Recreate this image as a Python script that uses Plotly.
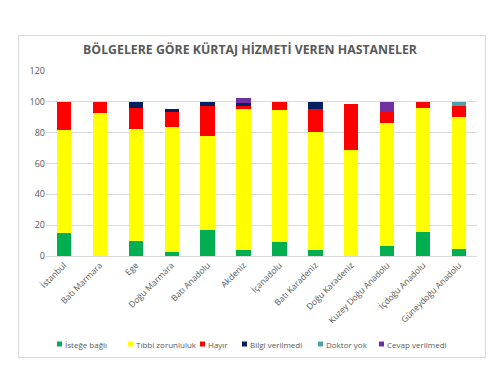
import plotly.graph_objects as go

regions = ["İstanbul", "Batı Marmara", "Ege", "Doğu Marmara", "Batı Anadolu", "Akdeniz",
           "İçanadolu", "Batı Karadeniz", "Doğu Karadeniz", "Kuzey Doğu Anadolu",
           "İçdoğu Anadolu", "Güneydoğu Anadolu"]
istege_bagli = [15, 0, 9.5, 2.4, 16.6, 4.1, 9, 4.1, 0, 6.5, 15.5, 4.7]
tibbi_zorunluluk = [67, 92.5, 72.6, 81.6, 61, 91.1, 85.8, 76.1, 69, 79.9, 80.5, 85.2]
hayir = [18, 7.5, 14.1, 9.5, 20, 2.4, 5.2, 15, 29.9, 6.9, 4, 7.3]
bilgi_verilmedi = [0, 0, 3.4, 2, 2.2, 1.7, 0, 4.8, 0, 0, 0, 0]
doktor_yok = [0, 0, 0, 0, 0, 0, 0, 0, 0, 0, 0, 2.4]
cevap_verilmedi = [0, 0, 0, 0, 0, 3.1, 0, 0, 0, 6.7, 0, 0]

series_names = ["İsteğe bağlı", "Tıbbi zorunluluk", "Hayır", "Bilgi verilmedi", "Doktor yok", "Cevap verilmedi"]
series_values = [istege_bagli, tibbi_zorunluluk, hayir, bilgi_verilmedi, doktor_yok, cevap_verilmedi]
series_colors = ["#00B050", "#FFFF00", "#FF0000", "#002060", "#4F9FAA", "#7030A0"]
# legend entry left edges (px) as laid out in the original
legend_x_px = [57, 128, 200, 242, 318, 379]

W, H = 500, 374
L, R, T, B = 46, 477, 71, 256
pw, ph = R - L, B - T

def px_x(x):
    return (x - L) / pw

def px_y(y):
    return (B - y) / ph

font_family = "Open Sans, Lato, sans-serif"
fig = go.Figure()
for name, vals, col in zip(series_names, series_values, series_colors):
    fig.add_trace(go.Bar(x=regions, y=vals, name=name, showlegend=False,
                         marker=dict(color=col, line=dict(width=0))))

shapes = []
annotations = []
ly = 344
for name, col, lx in zip(series_names, series_colors, legend_x_px):
    shapes.append(dict(type="rect", xref="paper", yref="paper",
                       x0=px_x(lx), x1=px_x(lx + 5), y0=px_y(ly + 2.5), y1=px_y(ly - 2.5),
                       line=dict(width=0), fillcolor=col))
    annotations.append(dict(xref="paper", yref="paper", x=px_x(lx + 6), y=px_y(ly),
                            xanchor="left", yanchor="middle", text=name, showarrow=False,
                            font=dict(size=8, color="#595959", family=font_family)))

fig.update_layout(
    width=W, height=H,
    barmode="stack", bargap=0.6,
    paper_bgcolor="white", plot_bgcolor="white",
    margin=dict(l=L, r=W - R, t=T, b=H - B),
    font=dict(family=font_family, color="#595959", size=9),
    title=dict(text="<b>BÖLGELERE GÖRE KÜRTAJ HİZMETİ VEREN HASTANELER</b>",
               x=0.5, xanchor="center", y=1 - 50 / H, yanchor="middle", yref="container",
               font=dict(size=12.3, color="#595959", family=font_family)),
    showlegend=False,
    xaxis=dict(tickangle=-45, showline=True, linecolor="#D9D9D9", linewidth=1, automargin=False,
               tickfont=dict(size=8.5, color="#595959"), ticks=""),
    yaxis=dict(range=[0, 120], dtick=20, showgrid=True, gridcolor="#D9D9D9", gridwidth=1,
               automargin=False, zeroline=False, tickfont=dict(size=9, color="#595959"), ticks=""),
    shapes=shapes,
    annotations=annotations,
)

frame_js = (
    "document.body.style.margin='0';document.body.style.overflow='hidden';"
    "var f=document.createElement('div');"
    "f.style.cssText='position:absolute;left:18px;top:35px;width:466px;height:321px;"
    "border:1px solid #D9D9D9;pointer-events:none;';"
    "document.body.appendChild(f);"
)
fig.write_html("out.html", config={"displayModeBar": False}, post_script=frame_js)
